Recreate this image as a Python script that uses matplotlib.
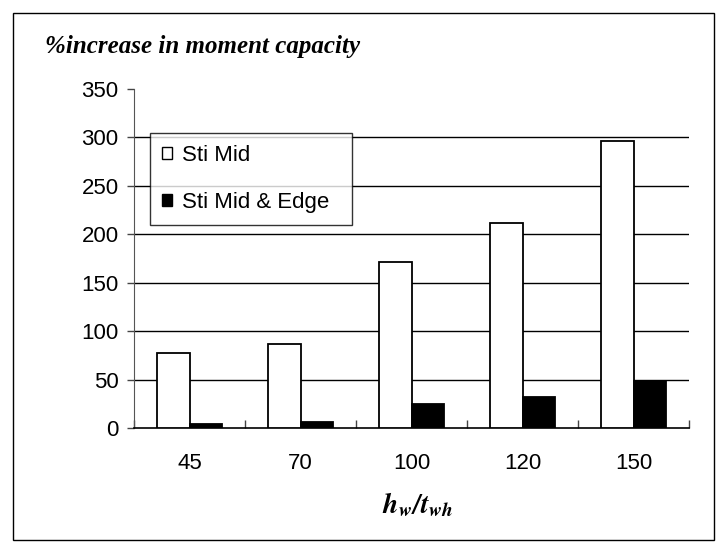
import numpy as np
import matplotlib
matplotlib.use("Agg")
from matplotlib import pyplot as plt
from matplotlib.patches import Rectangle, Patch

# data
categories = ["45", "70", "100", "120", "150"]
sti_mid = [77, 87, 171, 212, 296]
sti_mid_edge = [4, 6, 25, 32, 49]
y_ticks = [0, 50, 100, 150, 200, 250, 300, 350]

plt.rcParams['font.family'] = ['Liberation Sans', 'DejaVu Sans']
plt.rcParams['mathtext.fontset'] = 'stix'

fig = plt.figure(figsize=(7.27, 5.52), dpi=100)

# outer border like the Excel chart area
fig.patches.append(Rectangle((13/727, 1-540/552), 701/727, 527/552, transform=fig.transFigure,
                             fill=False, edgecolor='black', linewidth=1.0))

ax = fig.add_axes([134/727, 1-428/552, 555/727, 339/552])

x = np.arange(len(categories))
w = 0.297
ax.bar(x - w/2, sti_mid, w, color='white', edgecolor='black', linewidth=1.3, label='Sti Mid', zorder=3)
ax.bar(x + w/2, sti_mid_edge, w, color='black', edgecolor='black', linewidth=1.3, label='Sti Mid & Edge', zorder=3)

ax.set_xlim(-0.5, len(categories) - 0.5)
ax.set_ylim(0, 350)
ax.set_yticks(y_ticks)
ax.set_yticklabels([str(v) for v in y_ticks], fontsize=16)

# gridlines (none at the top value)
for v in y_ticks[1:-1]:
    ax.axhline(v, color='black', linewidth=1.0, zorder=1)

ax.set_xticks(x)
ax.set_xticklabels(categories, fontsize=16)
ax.set_xticks(np.arange(-0.5, len(categories)), minor=True)
ax.tick_params(axis='x', which='major', length=0, pad=18)
ax.tick_params(axis='x', which='minor', direction='in', length=6, width=1, color='#444444')
ax.tick_params(axis='y', direction='out', length=5, width=1, color='#444444', pad=6)

for s in ['top', 'right']:
    ax.spines[s].set_visible(False)
ax.spines['left'].set_color('#555555')
ax.spines['bottom'].set_color('black')
ax.spines['bottom'].set_linewidth(1.2)

handles = [Patch(facecolor='white', edgecolor='black', linewidth=1.0),
           Patch(facecolor='black', edgecolor='black', linewidth=1.0)]
leg = fig.legend(handles, ['Sti Mid', 'Sti Mid & Edge'], loc='upper left',
                 bbox_to_anchor=(150/727, 1-133/552, 202/727, 0), mode='expand',
                 fontsize=16, frameon=True, fancybox=False, handlelength=0.45, handleheight=0.45,
                 handletextpad=0.45, labelspacing=1.15, borderpad=0.55, borderaxespad=0)
leg.get_frame().set_edgecolor('black')
leg.get_frame().set_linewidth(1.0)

fig.text(45/727, 1-47/552, '%increase in moment capacity', family='Liberation Serif',
         style='italic', weight='bold', fontsize=18, va='center', ha='left')
fig.text(418/727, 1-505/552, r'$\mathbfit{h_w/t_{wh}}$', fontsize=20, va='center', ha='center')

fig.savefig('out.png', dpi=100)
